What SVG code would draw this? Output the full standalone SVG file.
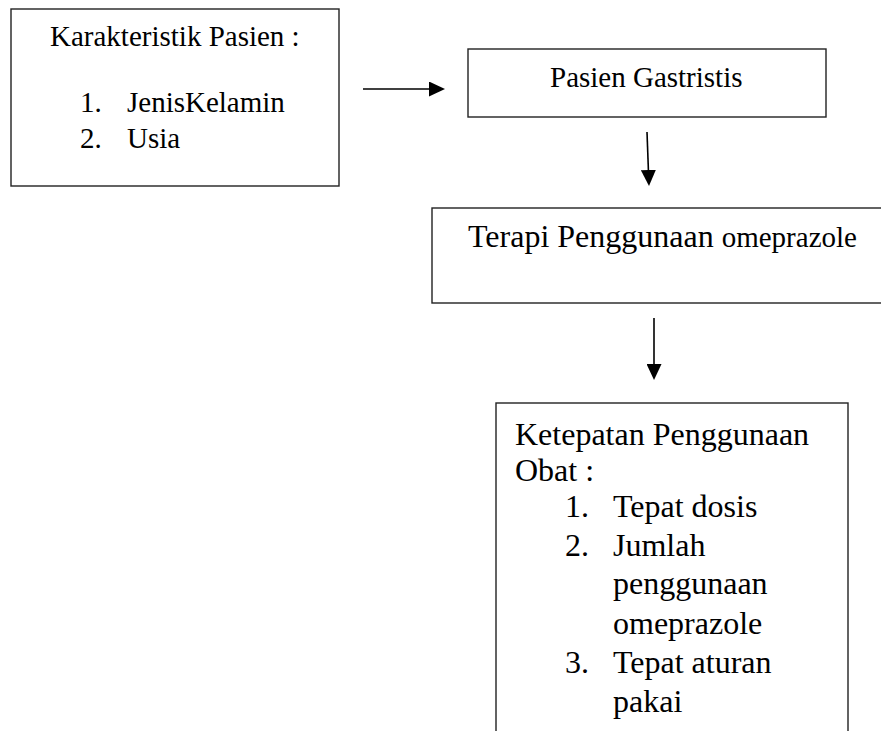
<svg xmlns="http://www.w3.org/2000/svg" width="881" height="731" viewBox="0 0 881 731">
<defs>
<style>
.box{fill:#fff;stroke:#222;stroke-width:1.4}
.t{font-family:"Liberation Serif","Times New Roman",serif;fill:#000}
.s29{font-size:29px}
.s32{font-size:32px}
.conn{stroke:#000;stroke-width:1.6;fill:none}
</style>
<marker id="ah" markerUnits="userSpaceOnUse" markerWidth="16" markerHeight="15" refX="8" refY="7.5" orient="auto">
<path d="M0,0 L16,7.5 L0,15 z" fill="#000"/>
</marker>
</defs>
<rect width="881" height="731" fill="#fff"/>
<g id="node-karakteristik">
<rect class="box" x="11" y="9" width="328" height="177"/>
<text class="t s29" x="50" y="46">Karakteristik Pasien :</text>
<text class="t s29" x="80" y="112">1.</text>
<text class="t s29" x="127" y="112">JenisKelamin</text>
<text class="t s29" x="80" y="148">2.</text>
<text class="t s29" x="127" y="148">Usia</text>
</g>
<g id="node-pasien">
<rect class="box" x="468" y="49" width="358" height="68"/>
<text class="t s29" x="550" y="87">Pasien Gastristis</text>
</g>
<g id="node-terapi">
<rect class="box" x="432" y="208" width="460" height="95"/>
<text class="t" x="468" y="247"><tspan class="s32">Terapi Penggunaan </tspan><tspan class="s29">omeprazole</tspan></text>
</g>
<g id="node-ketepatan">
<rect class="box" x="496" y="403" width="352" height="340"/>
<text class="t s32" x="515" y="445">Ketepatan Penggunaan</text>
<text class="t s32" x="515" y="481">Obat :</text>
<text class="t s32" x="565" y="517">1.</text>
<text class="t s32" x="613" y="517">Tepat dosis</text>
<text class="t s32" x="565" y="556">2.</text>
<text class="t s32" x="613" y="556">Jumlah</text>
<text class="t s32" x="613" y="594">penggunaan</text>
<text class="t s32" x="613" y="634">omeprazole</text>
<text class="t s32" x="565" y="673">3.</text>
<text class="t s32" x="613" y="673">Tepat aturan</text>
<text class="t s32" x="613" y="712">pakai</text>
</g>
<g id="connectors">
<line class="conn" x1="363" y1="89" x2="437" y2="89" marker-end="url(#ah)"/>
<line class="conn" x1="647" y1="132" x2="648.7" y2="178" marker-end="url(#ah)"/>
<line class="conn" x1="654" y1="318" x2="654" y2="372" marker-end="url(#ah)"/>
</g>
</svg>
